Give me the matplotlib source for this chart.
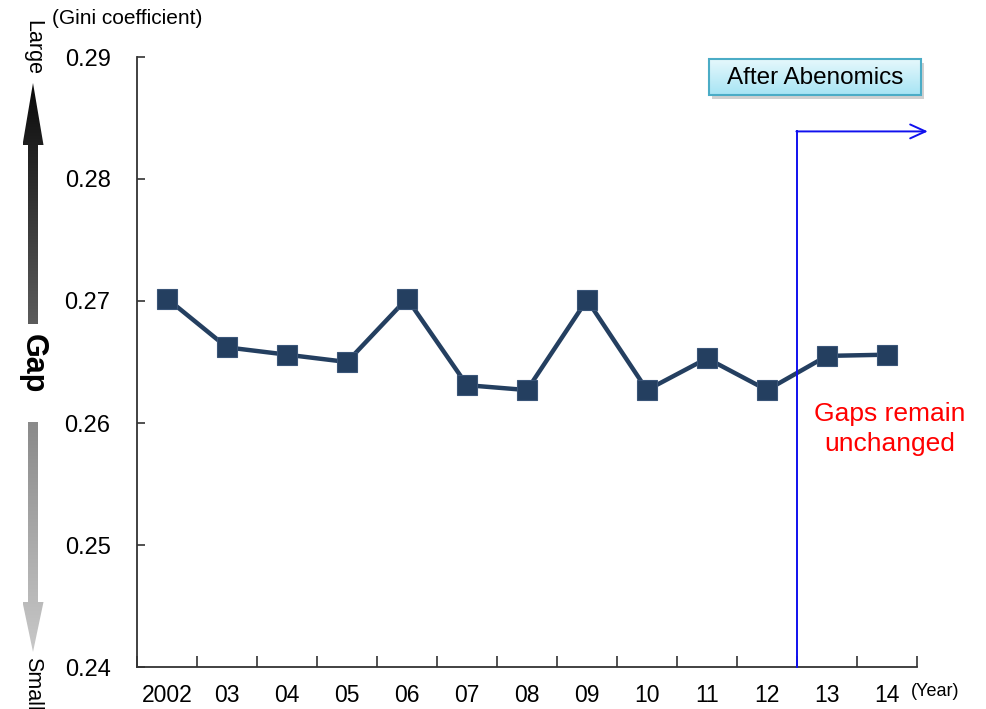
import numpy as np
import matplotlib
matplotlib.use("Agg")
import matplotlib.pyplot as plt
from matplotlib.patches import Polygon, Rectangle

plt.rcParams['font.family'] = ['Liberation Sans', 'DejaVu Sans']

years = ['2002', '03', '04', '05', '06', '07', '08', '09', '10', '11', '12', '13', '14']
gini = [0.2702, 0.2662, 0.2656, 0.2650, 0.2702, 0.2631, 0.2627, 0.2701, 0.2627, 0.2653, 0.2627, 0.2655, 0.2656]
yticks = [0.24, 0.25, 0.26, 0.27, 0.28, 0.29]

W, H = 987, 709
fig = plt.figure(figsize=(W / 100, H / 100), dpi=100)
ax = fig.add_axes([137 / W, 1 - 667 / H, (917 - 137) / W, (667 - 57) / H])

x = np.arange(len(years))
ax.plot(x, gini, color='#243f60', lw=3.2, marker='s', markersize=14,
        markerfacecolor='#243f60', markeredgecolor='#3a5578', markeredgewidth=0.8, zorder=3)

ax.set_xlim(-0.5, len(years) - 0.5)
ax.set_ylim(yticks[0], yticks[-1])
ax.set_yticks(yticks)
ax.set_yticklabels([f'{v:.2f}' for v in yticks], fontsize=17)
ax.set_xticks(np.arange(len(years) + 1) - 0.5)
ax.set_xticklabels([])
ax.set_xticks(x, minor=True)
ax.set_xticklabels(years, minor=True, fontsize=16.5)
ax.tick_params(axis='x', which='major', direction='in', length=8, width=1.2, color='#333333')
ax.tick_params(axis='x', which='minor', length=0, pad=12)
ax.tick_params(axis='y', direction='in', length=6, width=1.2, color='#333333', pad=19)
for s in ['top', 'right']:
    ax.spines[s].set_visible(False)
for s in ['left', 'bottom']:
    ax.spines[s].set_color('#333333')
    ax.spines[s].set_linewidth(1.3)
ax.patch.set_alpha(0)

# Abenomics divider and arrow
div_x = 10.5
arr_y = 0.2839
ax.plot([div_x, div_x], [yticks[0], arr_y], color='#1010ee', lw=1.4, clip_on=False, zorder=4)
ax.annotate('', xy=(12.68, arr_y), xytext=(div_x - 0.01, arr_y),
            arrowprops=dict(arrowstyle='->,head_length=1.1,head_width=0.5', color='#1010ee', lw=1.4,
                            shrinkA=0, shrinkB=0), annotation_clip=False)

ax.text(12.05, 0.2595, 'Gaps remain\nunchanged', color='#ff0000', fontsize=19,
        ha='center', va='center', linespacing=1.3)

# overlay in pixel coordinates
ov = fig.add_axes([0, 0, 1, 1], zorder=5)
ov.axis('off')
ov.patch.set_alpha(0)

def grad_poly(pts, c_top, c_bot, y0, y1, z=2):
    poly = Polygon(pts, closed=True, facecolor='none', edgecolor='none')
    ov.add_patch(poly)
    n = 256
    t = np.linspace(0, 1, n)[:, None]
    ct = np.array(matplotlib.colors.to_rgb(c_top))
    cb = np.array(matplotlib.colors.to_rgb(c_bot))
    img = ct[None, None, :] * (1 - t[:, :, None]) + cb[None, None, :] * t[:, :, None]
    img = np.repeat(img, 2, axis=1)
    xs = [p[0] for p in pts]
    im = ov.imshow(img, extent=[min(xs), max(xs), y1, y0], aspect='auto',
                   interpolation='bilinear', zorder=z)
    im.set_clip_path(poly)

# up arrow
up = [(28, 324), (28, 145), (22.5, 145), (33, 83), (43.5, 145), (38, 145), (38, 324)]
grad_poly(up, '#0a0a0a', '#5c5c5c', 83, 324)
# down arrow
dn = [(28, 422), (38, 422), (38, 602), (43.5, 602), (33, 652), (22.5, 602), (28, 602)]
grad_poly(dn, '#8a8a8a', '#c8c8c8', 422, 652)

ov.text(33, 364, 'Gap', rotation=-90, fontsize=22, fontweight='bold', ha='center', va='center')
ov.text(33, 47, 'Large', rotation=-90, fontsize=15.5, ha='center', va='center')
ov.text(33, 684, 'Small', rotation=-90, fontsize=15.5, ha='center', va='center')
ov.text(52, 18, '(Gini coefficient)', fontsize=15, ha='left', va='center')
ov.text(911, 692, '(Year)', fontsize=13, ha='left', va='center')

# After Abenomics box
bx0, by0, bx1, by1 = 709, 59, 921, 95
ov.add_patch(Rectangle((bx0 + 3, by0 + 4), bx1 - bx0, by1 - by0, facecolor='#bdbdbd',
                       edgecolor='none', alpha=0.7, zorder=1))
box = [(bx0, by0), (bx1, by0), (bx1, by1), (bx0, by1)]
grad_poly(box, '#e6f8fc', '#a6e4f4', by0, by1, z=2)
ov.add_patch(Rectangle((bx0, by0), bx1 - bx0, by1 - by0, facecolor='none', edgecolor='#4bacc6',
                       lw=1.5, zorder=3))
ov.text((bx0 + bx1) / 2, (by0 + by1) / 2 + 1, 'After Abenomics', fontsize=17.5,
        ha='center', va='center', zorder=4)
ov.set_xlim(0, W)
ov.set_ylim(H, 0)

fig.savefig('out.png', dpi=100, facecolor='white')
